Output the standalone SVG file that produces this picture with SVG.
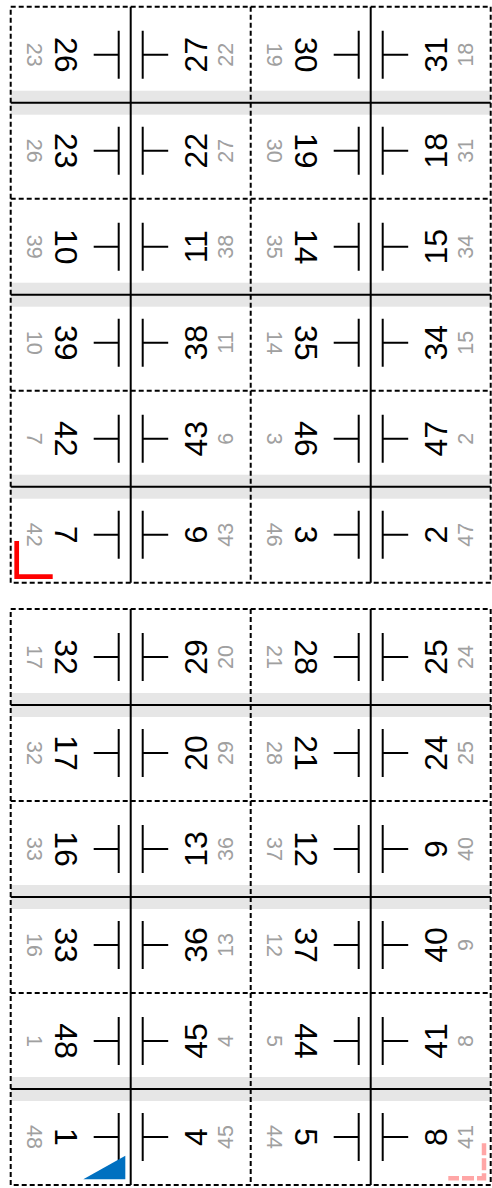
<svg xmlns="http://www.w3.org/2000/svg" xmlns:xlink="http://www.w3.org/1999/xlink" width="492" height="1188" viewBox="0 0 492 1188">
<style>
.big{font-family:"Liberation Sans",Arial,sans-serif;font-size:32px;fill:#000;text-anchor:middle}
.sm{font-family:"Liberation Sans",Arial,sans-serif;font-size:21.5px;fill:#a0a0a0;text-anchor:middle}
.mk{fill:none;stroke:#000;stroke-width:2}
.dash{fill:none;stroke:#000;stroke-width:2;stroke-dasharray:5 3}
.solid{fill:none;stroke:#000;stroke-width:2}
.band{fill:#e6e6e6}
</style>
<defs>
<path id="mL" class="mk" d="M-12,-24V24M-37,0H-12"/>
<path id="mR" class="mk" d="M12,-24V24M12,0H37.5"/>
</defs>
<rect width="492" height="1188" fill="#fff"/>
<g id="bands">
<rect class="band" x="10.7" y="90.7" width="480" height="24"/>
<rect class="band" x="10.7" y="282.7" width="480" height="24"/>
<rect class="band" x="10.7" y="474.7" width="480" height="24"/>
<rect class="band" x="10.7" y="693" width="480" height="24"/>
<rect class="band" x="10.7" y="885" width="480" height="24"/>
<rect class="band" x="10.7" y="1077" width="480" height="24"/>
</g>
<g id="sheet1-pages">
<g id="page-26"><use xlink:href="#mL" x="130.7" y="54.7"/><text class="big" transform="translate(55,54.7) rotate(90)">26</text><text class="sm" transform="translate(27.3,54.7) rotate(90)">23</text></g>
<g id="page-27"><use xlink:href="#mR" x="130.7" y="54.7"/><text class="big" transform="translate(206.7,54.7) rotate(-90)">27</text><text class="sm" transform="translate(233.3,54.7) rotate(-90)">22</text></g>
<g id="page-30"><use xlink:href="#mL" x="370.7" y="54.7"/><text class="big" transform="translate(295,54.7) rotate(90)">30</text><text class="sm" transform="translate(267.3,54.7) rotate(90)">19</text></g>
<g id="page-31"><use xlink:href="#mR" x="370.7" y="54.7"/><text class="big" transform="translate(446.7,54.7) rotate(-90)">31</text><text class="sm" transform="translate(473.3,54.7) rotate(-90)">18</text></g>

<g id="page-23"><use xlink:href="#mL" x="130.7" y="150.7"/><text class="big" transform="translate(55,150.7) rotate(90)">23</text><text class="sm" transform="translate(27.3,150.7) rotate(90)">26</text></g>
<g id="page-22"><use xlink:href="#mR" x="130.7" y="150.7"/><text class="big" transform="translate(206.7,150.7) rotate(-90)">22</text><text class="sm" transform="translate(233.3,150.7) rotate(-90)">27</text></g>
<g id="page-19"><use xlink:href="#mL" x="370.7" y="150.7"/><text class="big" transform="translate(295,150.7) rotate(90)">19</text><text class="sm" transform="translate(267.3,150.7) rotate(90)">30</text></g>
<g id="page-18"><use xlink:href="#mR" x="370.7" y="150.7"/><text class="big" transform="translate(446.7,150.7) rotate(-90)">18</text><text class="sm" transform="translate(473.3,150.7) rotate(-90)">31</text></g>

<g id="page-10"><use xlink:href="#mL" x="130.7" y="246.7"/><text class="big" transform="translate(55,246.7) rotate(90)">10</text><text class="sm" transform="translate(27.3,246.7) rotate(90)">39</text></g>
<g id="page-11"><use xlink:href="#mR" x="130.7" y="246.7"/><text class="big" transform="translate(206.7,246.7) rotate(-90)">11</text><text class="sm" transform="translate(233.3,246.7) rotate(-90)">38</text></g>
<g id="page-14"><use xlink:href="#mL" x="370.7" y="246.7"/><text class="big" transform="translate(295,246.7) rotate(90)">14</text><text class="sm" transform="translate(267.3,246.7) rotate(90)">35</text></g>
<g id="page-15"><use xlink:href="#mR" x="370.7" y="246.7"/><text class="big" transform="translate(446.7,246.7) rotate(-90)">15</text><text class="sm" transform="translate(473.3,246.7) rotate(-90)">34</text></g>

<g id="page-39"><use xlink:href="#mL" x="130.7" y="342.7"/><text class="big" transform="translate(55,342.7) rotate(90)">39</text><text class="sm" transform="translate(27.3,342.7) rotate(90)">10</text></g>
<g id="page-38"><use xlink:href="#mR" x="130.7" y="342.7"/><text class="big" transform="translate(206.7,342.7) rotate(-90)">38</text><text class="sm" transform="translate(233.3,342.7) rotate(-90)">11</text></g>
<g id="page-35"><use xlink:href="#mL" x="370.7" y="342.7"/><text class="big" transform="translate(295,342.7) rotate(90)">35</text><text class="sm" transform="translate(267.3,342.7) rotate(90)">14</text></g>
<g id="page-34"><use xlink:href="#mR" x="370.7" y="342.7"/><text class="big" transform="translate(446.7,342.7) rotate(-90)">34</text><text class="sm" transform="translate(473.3,342.7) rotate(-90)">15</text></g>

<g id="page-42"><use xlink:href="#mL" x="130.7" y="438.7"/><text class="big" transform="translate(55,438.7) rotate(90)">42</text><text class="sm" transform="translate(27.3,438.7) rotate(90)">7</text></g>
<g id="page-43"><use xlink:href="#mR" x="130.7" y="438.7"/><text class="big" transform="translate(206.7,438.7) rotate(-90)">43</text><text class="sm" transform="translate(233.3,438.7) rotate(-90)">6</text></g>
<g id="page-46"><use xlink:href="#mL" x="370.7" y="438.7"/><text class="big" transform="translate(295,438.7) rotate(90)">46</text><text class="sm" transform="translate(267.3,438.7) rotate(90)">3</text></g>
<g id="page-47"><use xlink:href="#mR" x="370.7" y="438.7"/><text class="big" transform="translate(446.7,438.7) rotate(-90)">47</text><text class="sm" transform="translate(473.3,438.7) rotate(-90)">2</text></g>

<g id="page-7"><use xlink:href="#mL" x="130.7" y="534.7"/><text class="big" transform="translate(55,534.7) rotate(90)">7</text><text class="sm" transform="translate(27.3,534.7) rotate(90)">42</text></g>
<g id="page-6"><use xlink:href="#mR" x="130.7" y="534.7"/><text class="big" transform="translate(206.7,534.7) rotate(-90)">6</text><text class="sm" transform="translate(233.3,534.7) rotate(-90)">43</text></g>
<g id="page-3"><use xlink:href="#mL" x="370.7" y="534.7"/><text class="big" transform="translate(295,534.7) rotate(90)">3</text><text class="sm" transform="translate(267.3,534.7) rotate(90)">46</text></g>
<g id="page-2"><use xlink:href="#mR" x="370.7" y="534.7"/><text class="big" transform="translate(446.7,534.7) rotate(-90)">2</text><text class="sm" transform="translate(473.3,534.7) rotate(-90)">47</text></g>
</g>
<g id="sheet2-pages">
<g id="page-32"><use xlink:href="#mL" x="130.7" y="657"/><text class="big" transform="translate(55,657) rotate(90)">32</text><text class="sm" transform="translate(27.3,657) rotate(90)">17</text></g>
<g id="page-29"><use xlink:href="#mR" x="130.7" y="657"/><text class="big" transform="translate(206.7,657) rotate(-90)">29</text><text class="sm" transform="translate(233.3,657) rotate(-90)">20</text></g>
<g id="page-28"><use xlink:href="#mL" x="370.7" y="657"/><text class="big" transform="translate(295,657) rotate(90)">28</text><text class="sm" transform="translate(267.3,657) rotate(90)">21</text></g>
<g id="page-25"><use xlink:href="#mR" x="370.7" y="657"/><text class="big" transform="translate(446.7,657) rotate(-90)">25</text><text class="sm" transform="translate(473.3,657) rotate(-90)">24</text></g>

<g id="page-17"><use xlink:href="#mL" x="130.7" y="753"/><text class="big" transform="translate(55,753) rotate(90)">17</text><text class="sm" transform="translate(27.3,753) rotate(90)">32</text></g>
<g id="page-20"><use xlink:href="#mR" x="130.7" y="753"/><text class="big" transform="translate(206.7,753) rotate(-90)">20</text><text class="sm" transform="translate(233.3,753) rotate(-90)">29</text></g>
<g id="page-21"><use xlink:href="#mL" x="370.7" y="753"/><text class="big" transform="translate(295,753) rotate(90)">21</text><text class="sm" transform="translate(267.3,753) rotate(90)">28</text></g>
<g id="page-24"><use xlink:href="#mR" x="370.7" y="753"/><text class="big" transform="translate(446.7,753) rotate(-90)">24</text><text class="sm" transform="translate(473.3,753) rotate(-90)">25</text></g>

<g id="page-16"><use xlink:href="#mL" x="130.7" y="849"/><text class="big" transform="translate(55,849) rotate(90)">16</text><text class="sm" transform="translate(27.3,849) rotate(90)">33</text></g>
<g id="page-13"><use xlink:href="#mR" x="130.7" y="849"/><text class="big" transform="translate(206.7,849) rotate(-90)">13</text><text class="sm" transform="translate(233.3,849) rotate(-90)">36</text></g>
<g id="page-12"><use xlink:href="#mL" x="370.7" y="849"/><text class="big" transform="translate(295,849) rotate(90)">12</text><text class="sm" transform="translate(267.3,849) rotate(90)">37</text></g>
<g id="page-9"><use xlink:href="#mR" x="370.7" y="849"/><text class="big" transform="translate(446.7,849) rotate(-90)">9</text><text class="sm" transform="translate(473.3,849) rotate(-90)">40</text></g>

<g id="page-33"><use xlink:href="#mL" x="130.7" y="945"/><text class="big" transform="translate(55,945) rotate(90)">33</text><text class="sm" transform="translate(27.3,945) rotate(90)">16</text></g>
<g id="page-36"><use xlink:href="#mR" x="130.7" y="945"/><text class="big" transform="translate(206.7,945) rotate(-90)">36</text><text class="sm" transform="translate(233.3,945) rotate(-90)">13</text></g>
<g id="page-37"><use xlink:href="#mL" x="370.7" y="945"/><text class="big" transform="translate(295,945) rotate(90)">37</text><text class="sm" transform="translate(267.3,945) rotate(90)">12</text></g>
<g id="page-40"><use xlink:href="#mR" x="370.7" y="945"/><text class="big" transform="translate(446.7,945) rotate(-90)">40</text><text class="sm" transform="translate(473.3,945) rotate(-90)">9</text></g>

<g id="page-48"><use xlink:href="#mL" x="130.7" y="1041"/><text class="big" transform="translate(55,1041) rotate(90)">48</text><text class="sm" transform="translate(27.3,1041) rotate(90)">1</text></g>
<g id="page-45"><use xlink:href="#mR" x="130.7" y="1041"/><text class="big" transform="translate(206.7,1041) rotate(-90)">45</text><text class="sm" transform="translate(233.3,1041) rotate(-90)">4</text></g>
<g id="page-44"><use xlink:href="#mL" x="370.7" y="1041"/><text class="big" transform="translate(295,1041) rotate(90)">44</text><text class="sm" transform="translate(267.3,1041) rotate(90)">5</text></g>
<g id="page-41"><use xlink:href="#mR" x="370.7" y="1041"/><text class="big" transform="translate(446.7,1041) rotate(-90)">41</text><text class="sm" transform="translate(473.3,1041) rotate(-90)">8</text></g>

<g id="page-1"><use xlink:href="#mL" x="130.7" y="1137"/><text class="big" transform="translate(55,1137) rotate(90)">1</text><text class="sm" transform="translate(27.3,1137) rotate(90)">48</text></g>
<g id="page-4"><use xlink:href="#mR" x="130.7" y="1137"/><text class="big" transform="translate(206.7,1137) rotate(-90)">4</text><text class="sm" transform="translate(233.3,1137) rotate(-90)">45</text></g>
<g id="page-5"><use xlink:href="#mL" x="370.7" y="1137"/><text class="big" transform="translate(295,1137) rotate(90)">5</text><text class="sm" transform="translate(267.3,1137) rotate(90)">44</text></g>
<g id="page-8"><use xlink:href="#mR" x="370.7" y="1137"/><text class="big" transform="translate(446.7,1137) rotate(-90)">8</text><text class="sm" transform="translate(473.3,1137) rotate(-90)">41</text></g>
</g>
<g id="connectors">
<rect class="dash" x="10.7" y="6.7" width="480" height="576"/>
<path class="dash" d="M250.7,6.7V582.7M10.7,198.7H490.7M10.7,390.7H490.7"/>
<path class="solid" d="M130.7,6.7V582.7M370.7,6.7V582.7M10.7,102.7H490.7M10.7,294.7H490.7M10.7,486.7H490.7"/>
<rect class="dash" x="10.7" y="609" width="480" height="576"/>
<path class="dash" d="M250.7,609V1185M10.7,801H490.7M10.7,993H490.7"/>
<path class="solid" d="M130.7,609V1185M370.7,609V1185M10.7,705H490.7M10.7,897H490.7M10.7,1089H490.7"/>
</g>
<g id="marks">
<path d="M16.7,541V576.7H52.7" fill="none" stroke="#ff0000" stroke-width="4.7"/>
<path d="M83.3,1179.3L125.3,1155.7V1179.3Z" fill="#0070c0"/>
<path d="M484,1143.3V1178.3H448.3" fill="none" stroke="#ffa6a6" stroke-width="4.5" stroke-dasharray="12 3"/>
</g>
</svg>
